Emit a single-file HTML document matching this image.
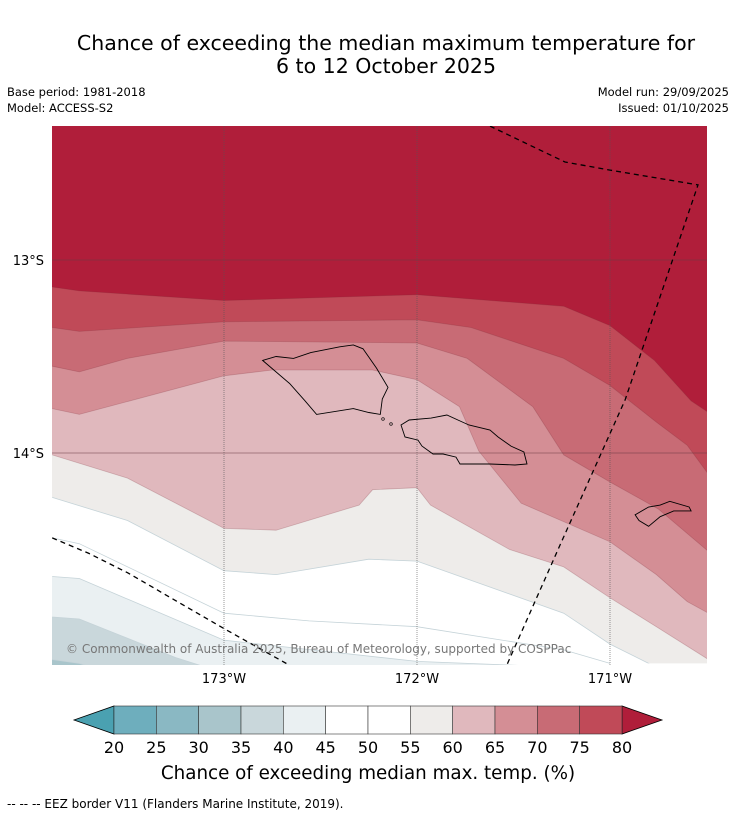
<!DOCTYPE html>
<html><head><meta charset="utf-8">
<style>
html,body{margin:0;background:#fff;width:736px;height:816px;overflow:hidden;font-family:"DejaVu Sans","Liberation Sans",sans-serif;}
svg{display:block}
svg text{font-family:"DejaVu Sans","Liberation Sans",sans-serif;}
</style></head>
<body>
<svg id="chart" width="736" height="816" viewBox="0 0 736 816">
<text x="386" y="50" font-size="20.5" text-anchor="middle" fill="#000">Chance of exceeding the median maximum temperature for</text>
<text x="386" y="73" font-size="20.5" text-anchor="middle" fill="#000">6 to 12 October 2025</text>
<text x="7" y="96" font-size="11.5">Base period: 1981-2018</text>
<text x="7" y="112" font-size="11.5">Model: ACCESS-S2</text>
<text x="729" y="96" font-size="11.5" text-anchor="end">Model run: 29/09/2025</text>
<text x="729" y="112" font-size="11.5" text-anchor="end">Issued: 01/10/2025</text>
<defs><clipPath id="mapclip"><rect x="52" y="126" width="655" height="539"/></clipPath></defs>
<g id="map" clip-path="url(#mapclip)"></g>
<g id="overlay"></g>
<g id="cbar"></g>
<text x="368" y="779" font-size="18.3" text-anchor="middle">Chance of exceeding median max. temp. (%)</text>
<text x="7" y="808" font-size="12">--  --  -- EEZ border V11 (Flanders Marine Institute, 2019).</text>
</svg>
<script>
// Colorbar data
const levels = [20,25,30,35,40,45,50,55,60,65,70,75,80];
const bandColors = ["#6eaebd","#8ab8c3","#a9c5cb","#c9d7db","#eaf0f2","#ffffff","#ffffff","#eeecea","#e0b8bd","#d48e95","#c86b75","#c04a58"];
const underColor = "#4aa1b1";
const overColor = "#b01e3a";
// Axis labels
const lonLabels = [173,172,171];
const latLabels = [13,14];
// Contour boundaries [lon W, lat S]
const boundaryLevels = [80,75,70,65,60,55,50,45,40,35];
const boundaries = [
 [[173.89,13.14],[173.75,13.16],[173,13.21],[172,13.18],[171.24,13.24],[171,13.34],[170.77,13.52],[170.58,13.73],[170.49,13.79]],
 [[173.89,13.35],[173.75,13.37],[173,13.32],[172,13.31],[171.72,13.35],[171.24,13.51],[171,13.65],[170.76,13.84],[170.6,13.96],[170.49,14.11]],
 [[173.89,13.55],[173.75,13.58],[173.5,13.51],[173,13.42],[172,13.43],[171.74,13.51],[171.4,13.76],[171.24,14.01],[171,14.15],[170.75,14.29],[170.49,14.51]],
 [[173.89,13.77],[173.75,13.8],[173.3,13.68],[173,13.6],[172.75,13.57],[172.23,13.57],[172,13.62],[171.78,13.76],[171.68,13.99],[171.46,14.26],[171,14.46],[170.76,14.63],[170.6,14.77],[170.49,14.83]],
 [[173.89,14.01],[173.5,14.13],[173,14.39],[172.73,14.4],[172.3,14.27],[172.23,14.19],[172,14.18],[171.93,14.27],[171.52,14.5],[171.24,14.59],[171,14.75],[170.76,14.9],[170.49,15.07]],
 [[173.89,14.23],[173.5,14.35],[173,14.61],[172.73,14.63],[172.25,14.55],[172,14.56],[171.24,14.83],[171,14.99],[170.76,15.11]],
 [[173.89,14.44],[173.75,14.47],[173,14.83],[172.56,14.87],[172,14.9],[171.24,15.02],[171,15.09]],
 [[173.89,14.64],[173.75,14.65],[173,14.97],[172,15.08],[171.24,15.11]],
 [[173.89,14.85],[173.75,14.86],[173.25,15.06],[173,15.14]],
 [[173.89,15.07],[173.75,15.09],[173.4,15.2]]
];
const savaii = [[172.8,13.52],[172.73,13.5],[172.64,13.51],[172.55,13.48],[172.4,13.45],[172.33,13.44],[172.28,13.46],[172.21,13.56],[172.15,13.66],[172.18,13.72],[172.19,13.8],[172.25,13.79],[172.33,13.77],[172.52,13.8],[172.58,13.73],[172.66,13.64]];
const upolu = [[172.083,13.855],[172.041,13.829],[171.927,13.819],[171.845,13.803],[171.788,13.829],[171.731,13.855],[171.622,13.881],[171.580,13.917],[171.513,13.964],[171.446,13.995],[171.430,14.057],[171.492,14.062],[171.622,14.057],[171.777,14.057],[171.798,14.021],[171.865,14.005],[171.917,14.005],[171.974,13.964],[171.995,13.933],[172.062,13.917]];
const tutuila = [[170.87,14.32],[170.8,14.28],[170.74,14.27],[170.69,14.25],[170.59,14.28],[170.58,14.3],[170.67,14.3],[170.74,14.33],[170.8,14.38],[170.85,14.35]];
const eez1 = [[171.622,12.306],[171.233,12.492],[171.0,12.534],[170.544,12.611],[170.922,13.725],[171.259,14.477],[171.534,15.098]];
const eez2 = [[173.89,14.44],[173.7,14.52],[173.5,14.62],[173,14.91],[172.66,15.1]];

// axis functions
const x0=52,x1=707,y0=126,y1=665;
const X = lon => 224 + (173 - lon) * 193;
const Y = lat => 260 + (lat - 13) * 193;
const NS="http://www.w3.org/2000/svg";
function mk(tag, attrs, parent){const e=document.createElementNS(NS,tag);for(const k in attrs)e.setAttribute(k,attrs[k]);parent.appendChild(e);return e;}
const map=document.getElementById('map');
const overlay=document.getElementById('overlay');
const bg=mk('rect',{x:x0,y:y0,width:x1-x0,height:y1-y0,fill:overColor},map);


function colorBelow(level){const i=levels.indexOf(level);return i>0?bandColors[i-1]:underColor;}
function pts(arr){return arr.map(p=>X(p[0]).toFixed(1)+','+Y(p[1]).toFixed(1));}
boundaries.forEach((b,i)=>{
  const lv=boundaryLevels[i];
  const p=pts(b);
  const last=b[b.length-1];
  const poly=[...p, (x1+5)+','+Y(last[1]), (x1+5)+','+(y1+5), (x0-5)+','+(y1+5), (x0-5)+','+Y(b[0][1])];
  const e=mk('polygon',{points:poly.join(' '),fill:colorBelow(lv)},map);
  
  
  const l=mk('polyline',{points:p.join(' '),fill:'none',stroke:lv<=55?'#c5d3d8':'rgba(120,40,50,0.25)','stroke-width':0.8},map);
  
  
});
lonLabels.forEach(lon=>{
  const g=mk('line',{x1:X(lon),x2:X(lon),y1:y0,y2:y1,stroke:'#555','stroke-width':0.6,'stroke-dasharray':'1,1'},map);
  
  
  const t=mk('text',{x:X(lon),y:683,'font-size':13,'text-anchor':'middle'},overlay);
  t.textContent=lon+'°W';
  
  
});
latLabels.forEach(lat=>{
  const g=mk('line',{x1:x0,x2:x1,y1:Y(lat),y2:Y(lat),stroke:'#6b3a40','stroke-width':0.6},map);
  
  
  const t=mk('text',{x:44,y:Y(lat)+5,'font-size':13,'text-anchor':'end'},overlay);
  t.textContent=lat+'°S';
  
  
});
[[savaii,'savaii-island'],[upolu,'upolu-island'],[tutuila,'tutuila-island']].forEach(([a,n])=>{
  const e=mk('polygon',{points:pts(a).join(' '),fill:'none',stroke:'#000','stroke-width':0.9},map);
  
  
});
[[383,419],[391,424]].forEach(c=>{const e=mk('circle',{cx:c[0],cy:c[1],r:1.3,fill:'none',stroke:'#000','stroke-width':0.7},map);
 
 });
[[eez1,'eez-border-east'],[eez2,'eez-border-west']].forEach(([a,n])=>{
  const e=mk('polyline',{points:pts(a).join(' '),fill:'none',stroke:'#000','stroke-width':1.3,'stroke-dasharray':'5,4'},map);
  
  
});
const cr=mk('text',{x:66,y:653,'font-size':12,fill:'#777'},map);
cr.textContent='© Commonwealth of Australia 2025, Bureau of Meteorology, supported by COSPPac';


const cb=document.getElementById('cbar');
const cbx0=114,cbx1=622,cby0=706,cby1=734;
const CX = v => cbx0 + (v-levels[0])/(levels[levels.length-1]-levels[0])*(cbx1-cbx0);
const ul=mk('polygon',{points:`${cbx0},${cby0} ${cbx0},${cby1} 74,720`,fill:underColor,stroke:'#000','stroke-width':0.8},cb);


const ol=mk('polygon',{points:`${cbx1},${cby0} ${cbx1},${cby1} 662,720`,fill:overColor,stroke:'#000','stroke-width':0.8},cb);


bandColors.forEach((c,i)=>{
  const r=mk('rect',{x:CX(levels[i]),y:cby0,width:CX(levels[i+1])-CX(levels[i]),height:cby1-cby0,fill:c,stroke:'#333','stroke-width':0.6},cb);
  
  
});
levels.forEach(v=>{
  const t=mk('text',{x:CX(v),y:753,'font-size':16,'text-anchor':'middle'},cb);
  t.textContent=v;
  
  
});
</script>
</body></html>
